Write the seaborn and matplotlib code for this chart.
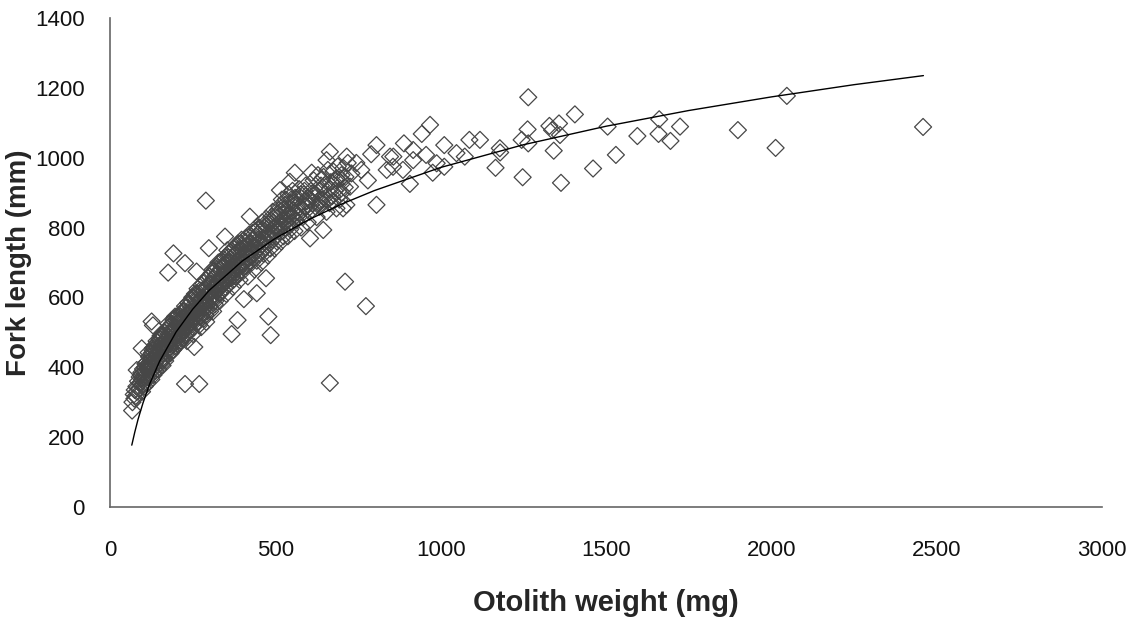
"""
Fork length against otolith weight, open diamond scatter with a
logarithmic trend line drawn through it.
"""

import pandas as pd
import seaborn as sns
import matplotlib
matplotlib.use("Agg")
import matplotlib.pyplot as plt

# dense band of fish (otolith weight mg, fork length mm)
band_points = [
    (68, 300), (72, 322), (75, 335), (78, 318), (80, 345), (74, 310),
    (82, 330), (85, 360), (88, 340), (90, 372), (92, 355), (95, 385),
    (97, 330), (99, 368), (100, 395), (96, 348), (93, 378), (101, 352),
    (104, 372), (106, 400), (108, 360), (110, 385), (112, 415), (114, 395),
    (116, 370), (118, 430), (119, 405), (105, 345), (113, 355),
    (122, 388), (124, 420), (126, 440), (128, 400), (130, 455), (132, 378),
    (134, 430), (136, 410), (138, 465), (140, 445), (125, 365), (133, 395),
    (142, 420), (144, 470), (146, 395), (148, 450), (150, 480), (152, 430),
    (154, 412), (156, 465), (158, 490), (160, 440), (145, 435), (155, 455),
    (159, 405), (162, 470), (164, 425), (166, 500), (168, 455), (170, 480),
    (172, 440), (174, 510), (176, 470), (178, 495), (180, 455), (167, 418),
    (173, 462), (177, 525), (182, 480), (184, 520), (186, 445), (188, 500),
    (190, 470), (192, 535), (194, 490), (196, 460), (198, 515), (200, 480),
    (185, 505), (191, 450), (197, 545), (202, 500), (204, 530), (206, 465),
    (208, 550), (210, 495), (212, 520), (214, 475), (216, 540), (218, 505),
    (220, 560), (207, 485), (213, 545), (219, 482), (222, 520), (224, 490),
    (226, 545), (228, 510), (230, 570), (232, 530), (234, 495), (236, 555),
    (238, 520), (240, 580), (225, 560), (233, 475), (239, 540), (242, 545),
    (244, 505), (246, 590), (248, 530), (250, 560), (252, 515), (254, 600),
    (256, 545), (258, 575), (260, 525), (245, 570), (251, 495), (257, 610),
    (262, 560), (264, 600), (266, 530), (268, 585), (270, 545), (272, 620),
    (274, 570), (276, 515), (278, 600), (280, 555), (265, 625), (271, 590),
    (277, 635), (282, 585), (284, 540), (286, 620), (288, 570), (290, 650),
    (292, 600), (294, 560), (296, 635), (298, 590), (300, 660), (285, 605),
    (291, 530), (299, 615), (302, 575), (304, 640), (306, 600), (308, 670),
    (310, 620), (312, 560), (314, 655), (316, 610), (318, 685), (320, 635),
    (305, 590), (311, 680), (317, 580), (322, 600), (324, 665), (326, 625),
    (328, 700), (330, 650), (332, 590), (334, 680), (336, 630), (338, 705),
    (340, 660), (325, 645), (333, 615), (339, 690), (342, 620), (344, 690),
    (346, 650), (348, 715), (350, 670), (352, 610), (354, 700), (356, 655),
    (358, 725), (360, 680), (345, 640), (355, 735), (362, 640), (364, 710),
    (366, 665), (368, 735), (370, 690), (372, 630), (374, 720), (376, 675),
    (378, 745), (380, 700), (367, 655), (382, 660), (384, 730), (386, 690),
    (388, 755), (390, 710), (392, 650), (394, 740), (396, 700), (398, 765),
    (400, 720), (402, 675), (405, 745), (408, 700), (411, 770), (414, 725),
    (417, 660), (420, 755), (407, 690), (422, 700), (425, 770), (428, 730),
    (431, 785), (434, 745), (437, 680), (440, 790), (426, 715), (443, 720),
    (446, 780), (449, 740), (452, 800), (455, 760), (458, 700), (460, 815),
    (448, 765), (463, 735), (466, 800), (469, 760), (472, 825), (475, 780),
    (478, 720), (480, 810), (483, 755), (486, 820), (489, 780), (492, 845),
    (495, 800), (498, 740), (500, 830), (503, 775), (506, 840), (509, 800),
    (512, 860), (515, 815), (518, 760), (520, 880), (523, 790), (526, 855),
    (529, 815), (532, 880), (535, 835), (538, 775), (540, 895), (543, 805),
    (546, 870), (549, 830), (552, 905), (555, 850), (558, 790), (560, 885),
    (563, 820), (566, 885), (569, 845), (572, 910), (575, 860), (578, 800),
    (583, 830), (586, 895), (589, 860), (592, 920), (595, 875), (598, 815),
    (604, 845), (608, 905), (612, 870), (616, 935), (620, 885), (625, 830),
    (629, 950), (634, 860), (638, 920), (642, 880), (646, 945), (650, 895),
    (655, 845), (659, 965), (664, 870), (668, 930), (672, 890), (676, 960),
    (680, 905), (685, 855), (689, 975), (694, 880), (698, 940), (702, 900),
    (706, 970), (710, 915), (715, 865), (719, 985),
]

# second pass over the band, where the diamonds pile up into solid black
band_points_dense = [
    (103, 385), (107, 410), (111, 372), (115, 400), (117, 442), (121, 410),
    (123, 378), (127, 425), (129, 448), (131, 405), (135, 455), (137, 390),
    (139, 428), (141, 475), (143, 440), (147, 415), (149, 462), (151, 445),
    (153, 490), (157, 420), (161, 455), (163, 490), (165, 440), (169, 505),
    (171, 465), (175, 485), (179, 515), (181, 470), (183, 440), (187, 525),
    (189, 485), (193, 505), (195, 540), (199, 470), (201, 515), (203, 545),
    (205, 490), (209, 530), (211, 470), (215, 515), (217, 555), (221, 500),
    (223, 540), (227, 575), (229, 495), (231, 550), (235, 520), (237, 585),
    (241, 555), (243, 525), (247, 545), (249, 600), (253, 570), (255, 530),
    (259, 590), (261, 545), (263, 610), (267, 570), (269, 520), (273, 595),
    (275, 545), (279, 620), (281, 575), (283, 640), (287, 590), (289, 550),
    (293, 625), (295, 580), (297, 655), (301, 610), (303, 560), (307, 640),
    (309, 595), (313, 675), (315, 630), (319, 590), (321, 665), (323, 620),
    (327, 685), (329, 640), (331, 610), (335, 700), (337, 660), (341, 640),
    (343, 710), (347, 675), (349, 630), (351, 695), (353, 650), (357, 715),
    (359, 665), (361, 700), (363, 655), (365, 730), (369, 680), (371, 715),
    (373, 650), (375, 740), (377, 695), (379, 660), (381, 725), (383, 685),
    (385, 750), (387, 705), (389, 670), (391, 735), (393, 690), (395, 755),
    (397, 715), (399, 680), (403, 740), (406, 705), (409, 760), (412, 690),
    (415, 745), (418, 715), (421, 780), (423, 730), (427, 755), (429, 700),
    (432, 765), (436, 725), (439, 770), (441, 745), (444, 705), (447, 795),
    (451, 755), (454, 725), (457, 790), (459, 750), (462, 770), (465, 725),
    (468, 810), (471, 745), (474, 795), (477, 760), (481, 780), (485, 740),
    (488, 830), (491, 765), (494, 815), (497, 785), (501, 800), (505, 760),
    (508, 850), (511, 790), (514, 835), (517, 805), (521, 820), (525, 775),
    (528, 865), (531, 800), (534, 850), (537, 820), (541, 835), (545, 795),
    (548, 880), (551, 815), (554, 870), (557, 840), (565, 860), (571, 830),
    (577, 895), (582, 850), (588, 905), (594, 860), (600, 885), (606, 880),
    (614, 900), (622, 860), (632, 905), (640, 870), (648, 920), (657, 880),
    (666, 910), (674, 875), (683, 935), (692, 905), (700, 925), (712, 945),
]

# scattered fish away from the band
sparse_points = [
    (67, 276), (81, 392), (96, 454), (126, 531), (130, 520), (176, 671),
    (192, 726), (227, 698), (262, 674), (299, 741), (290, 877), (227, 352),
    (270, 352), (255, 458), (368, 495), (386, 535), (405, 595), (444, 612),
    (472, 655), (479, 545), (486, 492), (711, 645), (774, 575), (665, 355),
    (806, 865), (806, 1036), (559, 957), (544, 931), (514, 907), (610, 957),
    (665, 1017), (655, 993), (716, 1003), (640, 938), (685, 941), (726, 917),
    (635, 879), (705, 855), (645, 793), (605, 769), (348, 774), (423, 831),
    (700, 950), (730, 955), (745, 985), (760, 965), (780, 935), (790, 1010),
    (837, 965), (847, 1003), (857, 1003), (856, 974), (886, 965), (889, 1041),
    (907, 925), (917, 1022), (917, 993), (943, 1068), (956, 1008),
    (968, 1094), (976, 957), (988, 984), (1011, 1036), (1011, 974),
    (1048, 1013), (1073, 1003), (1087, 1051), (1119, 1051), (1166, 971),
    (1179, 1027), (1180, 1015), (1245, 1051), (1248, 944), (1263, 1081),
    (1265, 1041), (1265, 1173), (1329, 1091), (1337, 1079), (1342, 1020),
    (1358, 1098), (1361, 1065), (1364, 928), (1406, 1124), (1461, 969),
    (1505, 1089), (1530, 1008), (1595, 1062), (1659, 1068), (1661, 1110),
    (1695, 1048), (1724, 1089), (1899, 1079), (2013, 1028), (2047, 1177),
    (2459, 1088),
]

# trend line
fit_weight = [66, 75, 85, 100, 120, 150, 200, 250, 300, 400, 500, 600,
              700, 800, 1000, 1250, 1500, 1750, 2000, 2250, 2460]
fit_length = [177, 214, 251, 298, 352, 417, 501, 566, 620, 704, 769, 822,
              867, 906, 972, 1037, 1090, 1135, 1174, 1209, 1235]

x_ticks = [0, 500, 1000, 1500, 2000, 2500, 3000]
y_ticks = [0, 200, 400, 600, 800, 1000, 1200, 1400]


def main():
    sns.set_style("white")
    plt.rcParams["font.family"] = ["Liberation Sans", "DejaVu Sans"]

    fish = pd.DataFrame(band_points + band_points_dense + sparse_points,
                        columns=["weight", "length"])
    trend = pd.DataFrame({"weight": fit_weight, "length": fit_length})

    fig, ax = plt.subplots(figsize=(11.43, 6.2), dpi=100)
    fig.subplots_adjust(left=0.0962, right=0.9641, bottom=0.1823, top=0.971)

    sns.scatterplot(data=fish, x="weight", y="length", marker="D", s=75,
                    facecolor="none", edgecolor="#474747", linewidth=0.9,
                    ax=ax)
    ax.collections[0].set_facecolor("none")
    sns.lineplot(data=trend, x="weight", y="length", sort=False,
                 estimator=None, color="black", linewidth=1.0, ax=ax)

    ax.set_xlim(0, 3000)
    ax.set_ylim(0, 1400)
    ax.set_xticks(x_ticks)
    ax.set_yticks(y_ticks)
    ax.tick_params(axis="both", length=0, labelsize=16, labelcolor="#111111")
    ax.tick_params(axis="x", pad=24)
    ax.tick_params(axis="y", pad=18)

    for side in ["top", "right"]:
        ax.spines[side].set_visible(False)
    for side in ["left", "bottom"]:
        ax.spines[side].set_color("#666666")
        ax.spines[side].set_linewidth(1.2)

    ax.set_xlabel("Otolith weight (mg)", fontsize=21, fontweight="bold",
                  labelpad=20)
    ax.set_ylabel("Fork length (mm)", fontsize=20, fontweight="bold")
    # pulled a little left of the reference so it clears the tick labels
    ax.yaxis.set_label_coords(-0.079, 0.5)

    plt.savefig("out.png", dpi=100)


if __name__ == "__main__":
    main()
